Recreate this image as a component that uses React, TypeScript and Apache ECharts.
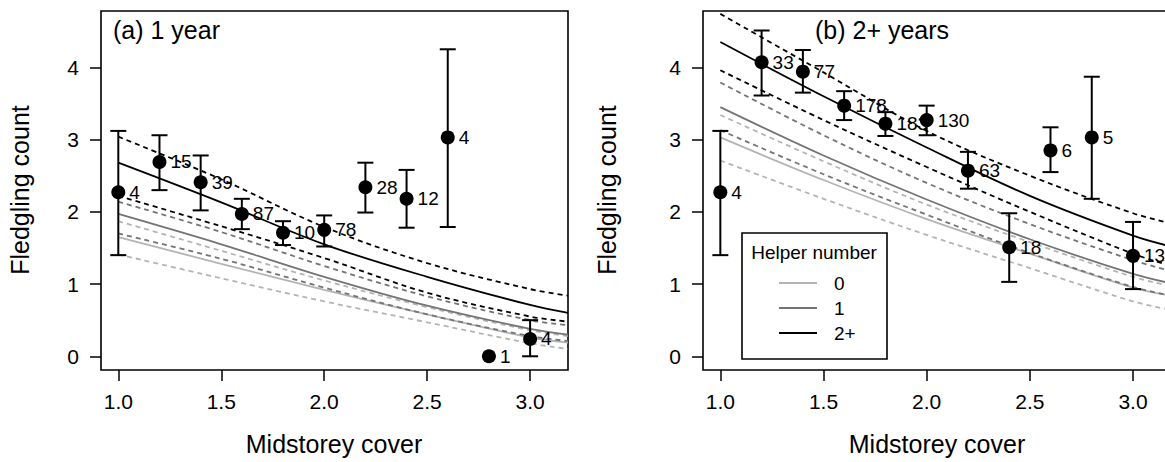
import React, { useEffect, useRef } from "react";
import * as echarts from "echarts";

// ---------- data ----------
const X_TICKS = [1, 1.5, 2, 2.5, 3];
const Y_TICKS = [0, 1, 2, 3, 4];
const HELPER_LEVELS = ["0", "1", "2+"];

const CURVE_X = [1.0, 1.5, 2.0, 2.5, 3.0, 3.184];

// (a) 1 year – binned means with error bars
const A_X = [1.0, 1.2, 1.4, 1.6, 1.8, 2.0, 2.2, 2.4, 2.6, 2.8, 3.0];
const A_MEAN = [2.27, 2.69, 2.41, 1.97, 1.71, 1.75, 2.34, 2.18, 3.03, 0.0, 0.24];
const A_LOW = [1.4, 2.3, 2.02, 1.76, 1.54, 1.52, 1.99, 1.78, 1.79, null, 0.0];
const A_HIGH = [3.12, 3.06, 2.78, 2.18, 1.87, 1.95, 2.68, 2.58, 4.25, null, 0.5];
const A_N = ["4", "15", "39", "87", "10", "78", "28", "12", "4", "1", "4"];

// (a) fitted curves: fit / upper / lower, per helper level
const A_FIT_0 = [1.65, 1.28, 0.92, 0.58, 0.26, 0.19];
const A_UP_0 = [1.87, 1.46, 1.05, 0.68, 0.36, 0.28];
const A_LO_0 = [1.41, 1.08, 0.76, 0.47, 0.18, 0.1];
const A_FIT_1 = [1.97, 1.55, 1.1, 0.7, 0.38, 0.3];
const A_UP_1 = [2.14, 1.72, 1.25, 0.83, 0.5, 0.43];
const A_LO_1 = [1.7, 1.35, 0.95, 0.58, 0.28, 0.21];
const A_FIT_2 = [2.68, 2.13, 1.55, 1.1, 0.71, 0.6];
const A_UP_2 = [3.04, 2.45, 1.79, 1.29, 0.93, 0.84];
const A_LO_2 = [2.22, 1.8, 1.36, 0.88, 0.55, 0.48];

// (b) 2+ years
const B_X = [1.0, 1.2, 1.4, 1.6, 1.8, 2.0, 2.2, 2.4, 2.6, 2.8, 3.0];
const B_MEAN = [2.27, 4.07, 3.94, 3.47, 3.22, 3.27, 2.57, 1.51, 2.85, 3.03, 1.39];
const B_LOW = [1.4, 3.61, 3.65, 3.27, 3.05, 3.06, 2.32, 1.03, 2.55, 2.18, 0.93];
const B_HIGH = [3.12, 4.51, 4.24, 3.67, 3.38, 3.47, 2.83, 1.98, 3.17, 3.87, 1.86];
const B_N = ["4", "33", "77", "178", "183", "130", "63", "18", "6", "5", "13"];

const B_FIT_0 = [3.03, 2.44, 1.9, 1.42, 0.95, 0.84];
const B_UP_0 = [3.34, 2.7, 2.1, 1.58, 1.1, 0.97];
const B_LO_0 = [2.71, 2.18, 1.68, 1.22, 0.76, 0.64];
const B_FIT_1 = [3.45, 2.78, 2.17, 1.62, 1.14, 1.01];
const B_UP_1 = [3.79, 3.06, 2.4, 1.83, 1.33, 1.18];
const B_LO_1 = [3.13, 2.52, 1.96, 1.43, 0.96, 0.84];
const B_FIT_2 = [4.35, 3.6, 2.89, 2.22, 1.67, 1.52];
const B_UP_2 = [4.74, 3.93, 3.12, 2.5, 1.98, 1.84];
const B_LO_2 = [3.96, 3.27, 2.62, 2.0, 1.42, 1.25];

// ---------- styling ----------
const FONT = "'Liberation Sans', Arial, Helvetica, sans-serif";
const COL = ["#b4b4b4", "#747474", "#000000"];

const pairs = (xs: number[], ys: number[]) => xs.map((x, i) => [x, ys[i]]);

function curve(grid: number, ys: number[], color: string, dashed: boolean) {
  return {
    type: "line",
    xAxisIndex: grid,
    yAxisIndex: grid,
    data: pairs(CURVE_X, ys),
    smooth: 0.35,
    showSymbol: false,
    symbol: "none",
    silent: true,
    z: 2,
    lineStyle: {
      color,
      width: 1.8,
      type: dashed ? [5, 4] : "solid",
    },
  };
}

function errorBars(grid: number, xs: number[], lo: (number | null)[], hi: (number | null)[]) {
  const data = xs
    .map((x, i) => [x, lo[i], hi[i]])
    .filter((d) => d[1] !== null && d[2] !== null);
  return {
    type: "custom",
    xAxisIndex: grid,
    yAxisIndex: grid,
    data,
    encode: { x: 0, y: [1, 2] },
    silent: true,
    z: 3,
    renderItem: (params: any, api: any) => {
      const x = api.value(0);
      const p1 = api.coord([x, api.value(1)]);
      const p2 = api.coord([x, api.value(2)]);
      const hw = 8;
      const st = { stroke: "#000", lineWidth: 2 };
      return {
        type: "group",
        children: [
          { type: "line", shape: { x1: p1[0], y1: p1[1], x2: p2[0], y2: p2[1] }, style: st },
          { type: "line", shape: { x1: p1[0] - hw, y1: p1[1], x2: p1[0] + hw, y2: p1[1] }, style: st },
          { type: "line", shape: { x1: p2[0] - hw, y1: p2[1], x2: p2[0] + hw, y2: p2[1] }, style: st },
        ],
      };
    },
  };
}

function points(grid: number, xs: number[], ys: number[], ns: string[]) {
  return {
    type: "scatter",
    xAxisIndex: grid,
    yAxisIndex: grid,
    data: xs.map((x, i) => ({ value: [x, ys[i]], n: ns[i] })),
    symbol: "circle",
    symbolSize: 14,
    z: 4,
    itemStyle: { color: "#000", opacity: 1 },
    label: {
      show: true,
      position: "right",
      distance: 4,
      color: "#000",
      fontSize: 19,
      fontFamily: FONT,
      formatter: (p: any) => p.data.n,
    },
  };
}

function xAxis(grid: number) {
  return {
    gridIndex: grid,
    type: "value",
    min: 0.916,
    max: 3.184,
    splitLine: { show: false },
    axisLine: { show: false, onZero: false },
    axisTick: {
      show: true,
      length: 11,
      customValues: X_TICKS,
      lineStyle: { color: "#000", width: 1.5 },
    },
    axisLabel: {
      customValues: X_TICKS,
      formatter: (v: number) => v.toFixed(1),
      margin: 21,
      fontSize: 21,
      color: "#000",
      fontFamily: FONT,
    },
  };
}

function yAxis(grid: number) {
  return {
    gridIndex: grid,
    type: "value",
    min: -0.19,
    max: 4.78,
    splitLine: { show: false },
    axisLine: { show: false, onZero: false },
    axisTick: {
      show: true,
      length: 11,
      customValues: Y_TICKS,
      lineStyle: { color: "#000", width: 1.5 },
    },
    axisLabel: {
      customValues: Y_TICKS,
      formatter: (v: number) => String(v),
      margin: 22,
      fontSize: 21,
      color: "#000",
      fontFamily: FONT,
    },
  };
}

function txt(text: string, x: number, y: number, size: number, align = "center", rotation = 0) {
  return {
    type: "text",
    x,
    y,
    rotation,
    z: 100,
    style: {
      text,
      fill: "#000",
      fontSize: size,
      fontFamily: FONT,
      align,
      verticalAlign: "middle",
      textAlign: align,
      textVerticalAlign: "middle",
    },
  };
}

export default function App() {
  const ref = useRef<HTMLDivElement>(null);

  useEffect(() => {
    if (!ref.current) return;
    const chart = echarts.init(ref.current, null, { renderer: "svg" });

    const aCurves = [
      [A_FIT_0, A_UP_0, A_LO_0],
      [A_FIT_1, A_UP_1, A_LO_1],
      [A_FIT_2, A_UP_2, A_LO_2],
    ];
    const bCurves = [
      [B_FIT_0, B_UP_0, B_LO_0],
      [B_FIT_1, B_UP_1, B_LO_1],
      [B_FIT_2, B_UP_2, B_LO_2],
    ];

    const series: any[] = [];
    [aCurves, bCurves].forEach((set, g) => {
      set.forEach((c, k) => {
        series.push(curve(g, c[1], COL[k], true));
        series.push(curve(g, c[2], COL[k], true));
        series.push({ ...curve(g, c[0], COL[k], false), name: HELPER_LEVELS[k] });
      });
    });
    series.push(errorBars(0, A_X, A_LOW, A_HIGH));
    series.push(errorBars(1, B_X, B_LOW, B_HIGH));
    series.push(points(0, A_X, A_MEAN, A_N));
    series.push(points(1, B_X, B_MEAN, B_N));

    const legendRows = HELPER_LEVELS.map((lvl, k) => {
      const y = 283 + k * 25;
      return [
        {
          type: "line",
          z: 101,
          shape: { x1: 779, y1: y, x2: 817, y2: y },
          style: { stroke: COL[k], lineWidth: 1.8 },
        },
        txt(lvl, 834, y, 19, "left"),
      ];
    }).flat();

    chart.setOption({
      animation: false,
      backgroundColor: "#ffffff",
      grid: [
        {
          left: 101, top: 11, width: 467, height: 359,
          show: true, borderColor: "#000", borderWidth: 1.6, backgroundColor: "transparent",
          containLabel: false, outerBoundsMode: "none",
        },
        {
          left: 703, top: 11, width: 468, height: 359,
          show: true, borderColor: "#000", borderWidth: 1.6, backgroundColor: "transparent",
          containLabel: false, outerBoundsMode: "none",
        },
      ],
      xAxis: [xAxis(0), xAxis(1)],
      yAxis: [yAxis(0), yAxis(1)],
      series,
      graphic: [
        txt("(a) 1 year", 113, 30, 25, "left"),
        txt("(b) 2+ years", 815, 30, 25, "left"),
        txt("Fledgling count", 20, 190, 25, "center", Math.PI / 2),
        txt("Fledgling count", 607, 190, 25, "center", Math.PI / 2),
        txt("Midstorey cover", 334, 444, 25, "center"),
        txt("Midstorey cover", 937, 444, 25, "center"),
        {
          type: "rect",
          z: 99,
          shape: { x: 742, y: 233, width: 145, height: 126 },
          style: { fill: "#fff", stroke: "#000", lineWidth: 1.6 },
        },
        txt("Helper number", 814, 252, 19, "center"),
        ...legendRows,
      ],
    });

    return () => chart.dispose();
  }, []);

  return (
    <div
      ref={ref}
      style={{ position: "absolute", left: 0, top: 0, width: 1165, height: 462, background: "#fff" }}
    />
  );
}
